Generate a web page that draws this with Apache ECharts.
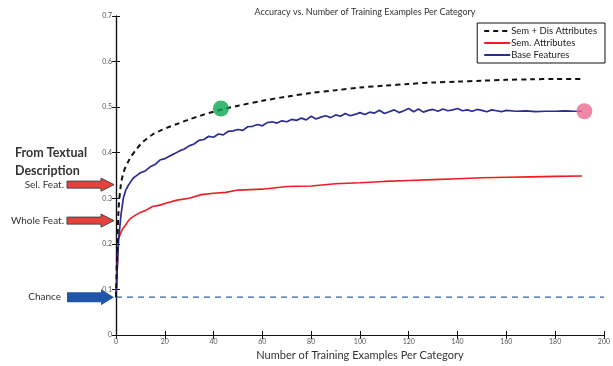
<!DOCTYPE html>
<html>
<head>
<meta charset="utf-8">
<script src="https://cdn.jsdelivr.net/npm/echarts@6/dist/echarts.min.js"></script>
<style>
  html, body { margin: 0; padding: 0; background: #fff; }
  #chart { width: 613px; height: 366px; }
</style>
</head>
<body>
<div id="chart"></div>
<script>
// smooth curves share x positions
const smoothX = [0, 1, 2, 3, 4, 5, 6, 8, 10, 12, 15, 18, 21, 25, 30, 35, 40, 45, 50, 60, 70, 80, 90, 100, 110, 120, 130, 140, 150, 160, 170, 180, 191];
const semDis = [0.083, 0.27, 0.33, 0.355, 0.37, 0.38, 0.39, 0.405, 0.418, 0.428, 0.44, 0.448, 0.455, 0.463, 0.473, 0.482, 0.49, 0.497, 0.503, 0.514, 0.523, 0.531, 0.537, 0.543, 0.547, 0.551, 0.554, 0.556, 0.558, 0.56, 0.561, 0.562, 0.562];
const sem = [0.083, 0.21, 0.225, 0.235, 0.242, 0.25, 0.256, 0.263, 0.269, 0.273, 0.282, 0.285, 0.29, 0.296, 0.3, 0.308, 0.311, 0.313, 0.318, 0.32, 0.326, 0.327, 0.332, 0.334, 0.337, 0.339, 0.341, 0.343, 0.345, 0.346, 0.347, 0.348, 0.349];

// base features are noisy, sampled more densely
const baseX = [0, 1, 2, 3, 4, 5, 6, 7, 8, 9, 10, 12, 14, 16, 18, 20, 22, 24, 26, 28, 30, 32, 34, 36, 38, 40, 42, 44, 46, 48, 50, 52, 54, 56, 58, 60, 62, 64, 66, 68, 70, 72, 74, 76, 78, 80, 82, 84, 86, 88, 90, 92, 94, 96, 98, 100, 102, 104, 106, 108, 110, 112, 114, 116, 118, 120, 122, 124, 126, 128, 130, 132, 134, 136, 138, 140, 142, 144, 146, 148, 150, 152, 154, 156, 158, 160, 164, 168, 172, 176, 180, 184, 188, 191];
const base = [0.083, 0.205, 0.262, 0.3, 0.318, 0.328, 0.336, 0.344, 0.348, 0.352, 0.356, 0.36, 0.369, 0.374, 0.384, 0.387, 0.393, 0.398, 0.404, 0.408, 0.415, 0.419, 0.427, 0.429, 0.436, 0.434, 0.441, 0.439, 0.447, 0.448, 0.451, 0.449, 0.457, 0.458, 0.462, 0.459, 0.466, 0.468, 0.465, 0.47, 0.468, 0.473, 0.471, 0.476, 0.472, 0.48, 0.474, 0.478, 0.481, 0.477, 0.483, 0.48, 0.486, 0.481, 0.484, 0.488, 0.484, 0.489, 0.487, 0.493, 0.486, 0.49, 0.494, 0.488, 0.492, 0.497, 0.49, 0.496, 0.489, 0.493, 0.495, 0.491, 0.496, 0.492, 0.494, 0.497, 0.492, 0.494, 0.491, 0.495, 0.493, 0.49, 0.494, 0.492, 0.49, 0.493, 0.491, 0.492, 0.49, 0.491, 0.491, 0.492, 0.491, 0.491];

const chanceLevel = 0.083;
const xRange = [0, 200];
const greenDot = [43, 0.497];
const pinkDot = [192, 0.491];

// left-side annotations: label, accuracy level, arrow colour
const notes = [
  { label: 'Sel. Feat.', value: 0.33, color: '#e8413c', stroke: '#444' },
  { label: 'Whole Feat.', value: 0.251, color: '#e8413c', stroke: '#444' },
  { label: 'Chance', value: chanceLevel, color: '#1f56a8', stroke: '#1f56a8' }
];

const pairs = (xs, ys) => xs.map((x, i) => [x, ys[i]]);
const font = 'Lato, "Open Sans", sans-serif';

const chart = echarts.init(document.getElementById('chart'));

const tickStyle = { inside: true, length: 4, lineStyle: { color: '#111', width: 1 } };
const axisLine = { lineStyle: { color: '#111', width: 1.2 } };

chart.setOption({
  animation: false,
  title: {
    text: 'Accuracy vs. Number of Training Examples Per Category',
    left: 360,
    textAlign: 'center',
    top: 3,
    textStyle: { fontSize: 9, fontWeight: 'normal', color: '#333', fontFamily: font }
  },
  legend: {
    orient: 'vertical',
    right: 8,
    top: 23,
    data: ['Sem + Dis Attributes', 'Sem. Attributes', 'Base Features'],
    itemWidth: 26,
    itemHeight: 6,
    itemGap: 2,
    itemStyle: { opacity: 0 },
    padding: [3, 8, 3, 6],
    borderColor: '#111',
    borderWidth: 1,
    backgroundColor: '#fff',
    textStyle: { fontSize: 9.5, color: '#222', fontFamily: font, padding: [0, 0, 0, -4] }
  },
  grid: { left: 116, right: 8, top: 16, bottom: 28 },
  xAxis: [
    {
      type: 'value', min: xRange[0], max: xRange[1], interval: 20,
      name: 'Number of Training Examples Per Category',
      nameLocation: 'middle', nameGap: 15,
      nameTextStyle: { fontSize: 11, color: '#333', fontFamily: font },
      axisLine: axisLine, axisTick: tickStyle,
      axisLabel: { fontSize: 7, color: '#555', margin: 3, fontFamily: font },
      splitLine: { show: false }
    },
    {
      type: 'value', position: 'top', min: xRange[0], max: xRange[1], interval: 20,
      axisLine: axisLine, axisTick: tickStyle, axisLabel: { show: false }, splitLine: { show: false }
    }
  ],
  yAxis: [
    {
      type: 'value', min: 0, max: 0.7, interval: 0.1,
      axisLine: { show: true, lineStyle: { color: '#111', width: 1.2 } }, axisTick: tickStyle,
      axisLabel: { fontSize: 7, color: '#555', margin: 4, fontFamily: font },
      splitLine: { show: false }
    },
    {
      type: 'value', position: 'right', min: 0, max: 0.7, interval: 0.1,
      axisLine: { show: true, lineStyle: { color: '#111', width: 1.2 } }, axisTick: tickStyle,
      axisLabel: { show: false }, splitLine: { show: false }
    }
  ],
  series: [
    {
      name: 'Chance', type: 'line', symbol: 'none', silent: true,
      data: pairs(xRange, [chanceLevel, chanceLevel]),
      lineStyle: { color: '#2d62b0', width: 1.3, type: [6, 5] }
    },
    {
      name: 'Sem. Attributes', type: 'line', symbol: 'none',
      data: pairs(smoothX, sem),
      lineStyle: { color: '#ee1c25', width: 1.6 }, itemStyle: { color: '#ee1c25' }
    },
    {
      name: 'Base Features', type: 'line', symbol: 'none',
      data: pairs(baseX, base),
      lineStyle: { color: '#2b2b96', width: 1.7 }, itemStyle: { color: '#2b2b96' }
    },
    {
      name: 'Sem + Dis Attributes', type: 'line', symbol: 'none', smooth: 0.3,
      data: pairs(smoothX, semDis),
      lineStyle: { color: '#111', width: 2, type: [5, 4] }, itemStyle: { color: '#111' }
    },
    {
      name: 'dots', type: 'scatter', symbolSize: 16, silent: true, z: 5,
      data: [
        { value: greenDot, itemStyle: { color: '#0aa84f' } },
        { value: pinkDot, itemStyle: { color: '#ec6a92' } }
      ]
    }
  ]
});

// place annotation arrows at their accuracy levels
const elements = [
  {
    type: 'text', left: 15, top: 144,
    style: { text: 'From Textual\nDescription', fill: '#333', lineHeight: 18, font: 'bold 12.5px ' + font }
  }
];
notes.forEach((n) => {
  const y = chart.convertToPixel({ yAxisIndex: 0 }, n.value);
  const thick = n.label === 'Chance';
  const bh = thick ? 5 : 3.5, hh = thick ? 8 : 6.5;
  const x0 = 67, x1 = 101, x2 = 114;
  elements.push({
    type: 'polygon',
    shape: { points: [[x0, y - bh], [x1, y - bh], [x1, y - hh], [x2, y], [x1, y + hh], [x1, y + bh], [x0, y + bh]] },
    style: { fill: n.color, stroke: n.stroke, lineWidth: thick ? 0 : 1 }
  });
  elements.push({
    type: 'text', x: thick ? 61 : 64, y: y,
    style: { text: n.label, align: 'right', verticalAlign: 'middle', fontSize: 10, fill: '#333', fontFamily: font }
  });
});
chart.setOption({ graphic: elements });
</script>
</body>
</html>
